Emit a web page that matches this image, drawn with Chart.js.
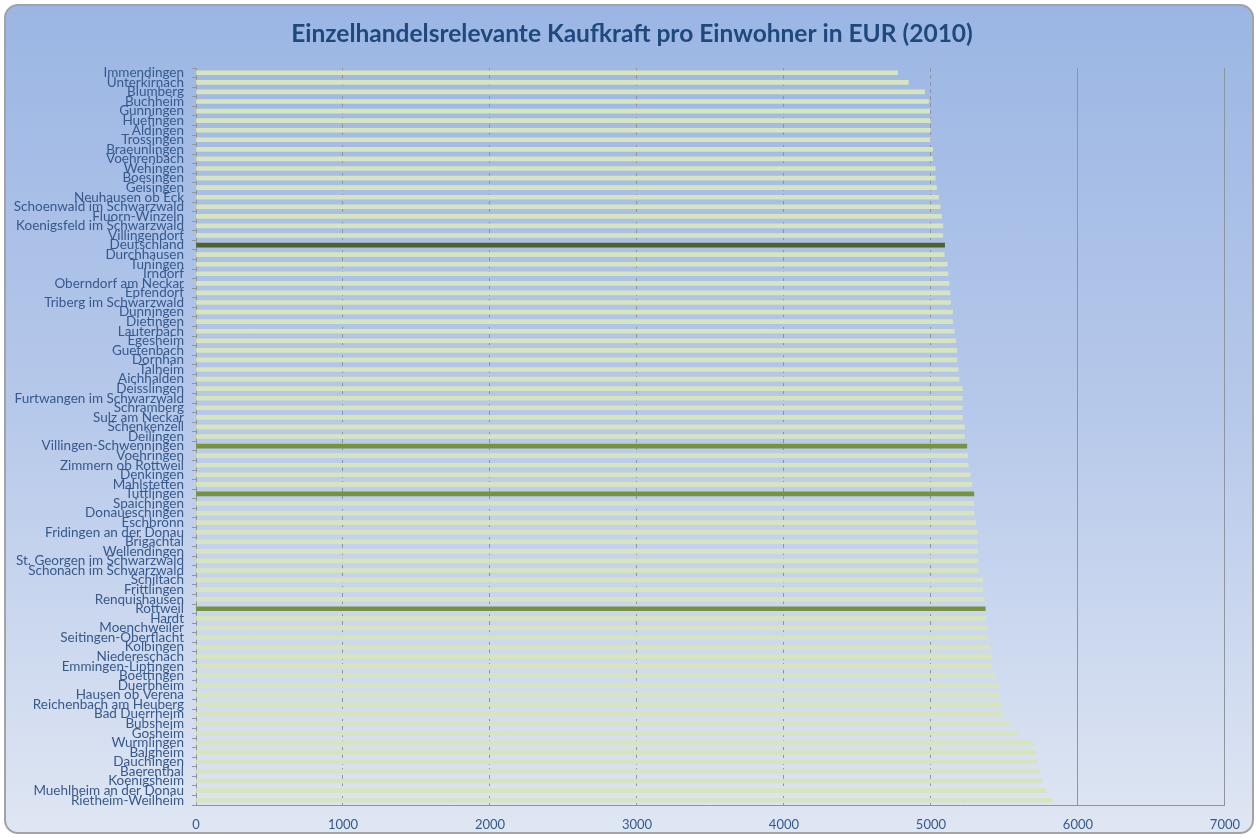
<!DOCTYPE html>
<html>
<head>
<meta charset="utf-8">
<script src="https://cdn.jsdelivr.net/npm/chart.js@4.4.0/dist/chart.umd.min.js"></script>
<style>
    body { margin: 0; background: #ffffff; }
    #card {
        position: absolute;
        left: 4px;
        top: 4px;
        width: 1250px;
        height: 830px;
        box-sizing: border-box;
        border: 2px solid #a3a3a3;
        border-radius: 14px;
        background: linear-gradient(to bottom, #9bb6e4 0%, #b7c9ea 50%, #dfe6f3 100%);
        overflow: hidden;
    }
    #chart { position: absolute; left: 0; top: 0; }
</style>
</head>
<body>
<div id="card">
    <canvas id="chart" width="1246" height="826"></canvas>
</div>
<script>
const titel = 'Einzelhandelsrelevante Kaufkraft pro Einwohner in EUR (2010)';

const gemeinden = [
    'Immendingen', 'Unterkirnach', 'Blumberg', 'Buchheim', 'Gunningen', 'Huefingen', 'Aldingen',
    'Trossingen', 'Braeunlingen', 'Voehrenbach', 'Wehingen', 'Boesingen', 'Geisingen',
    'Neuhausen ob Eck', 'Schoenwald im Schwarzwald', 'Fluorn-Winzeln', 'Koenigsfeld im Schwarzwald',
    'Villingendorf', 'Deutschland', 'Durchhausen', 'Tuningen', 'Irndorf', 'Oberndorf am Neckar',
    'Epfendorf', 'Triberg im Schwarzwald', 'Dunningen', 'Dietingen', 'Lauterbach', 'Egesheim',
    'Guetenbach', 'Dornhan', 'Talheim', 'Aichhalden', 'Deisslingen', 'Furtwangen im Schwarzwald',
    'Schramberg', 'Sulz am Neckar', 'Schenkenzell', 'Deilingen', 'Villingen-Schwenningen',
    'Voehringen', 'Zimmern ob Rottweil', 'Denkingen', 'Mahlstetten', 'Tuttlingen', 'Spaichingen',
    'Donaueschingen', 'Eschbronn', 'Fridingen an der Donau', 'Brigachtal', 'Wellendingen',
    'St. Georgen im Schwarzwald', 'Schonach im Schwarzwald', 'Schiltach', 'Frittlingen',
    'Renquishausen', 'Rottweil', 'Hardt', 'Moenchweiler', 'Seitingen-Oberflacht', 'Kolbingen',
    'Niedereschach', 'Emmingen-Liptingen', 'Boettingen', 'Duerbheim', 'Hausen ob Verena',
    'Reichenbach am Heuberg', 'Bad Duerrheim', 'Bubsheim', 'Gosheim', 'Wurmlingen', 'Balgheim',
    'Dauchingen', 'Baerenthal', 'Koenigsheim', 'Muehlheim an der Donau', 'Rietheim-Weilheim'
];

const kaufkraft = [
    4773, 4846, 4957, 4984, 4991, 4995, 4995,
    4995, 5011, 5011, 5029, 5029, 5038,
    5052, 5063, 5072, 5081,
    5081, 5093, 5091, 5111, 5115, 5124,
    5129, 5133, 5147, 5147, 5158, 5169,
    5176, 5176, 5185, 5192, 5213, 5213,
    5213, 5215, 5228, 5228, 5244,
    5249, 5253, 5267, 5278, 5292, 5292,
    5292, 5303, 5317, 5317, 5317,
    5321, 5321, 5351, 5351,
    5360, 5369, 5373, 5385, 5385, 5403,
    5408, 5414, 5437, 5461, 5461,
    5480, 5495, 5543, 5595, 5695, 5710,
    5726, 5740, 5756, 5783, 5826
];

const xTicks = [0, 1000, 2000, 3000, 4000, 5000, 6000, 7000];

// hervorgehobene Balken
const landName = 'Deutschland';
const kreisStaedte = ['Villingen-Schwenningen', 'Tuttlingen', 'Rottweil'];

const barColors = gemeinden.map(name => {
    if (name === landName) return '#4f6228';
    if (kreisStaedte.includes(name)) return '#77933c';
    return '#d7e4bd';
});

const labelColor = '#36598c';
const gridColor = '#8f959c';

// Titel mittig über dem ganzen Rahmen, nicht nur über der Zeichenfläche
const titelPlugin = {
    id: 'titelMitte',
    afterDraw(chart) {
        const c = chart.ctx;
        c.save();
        c.font = 'bold 24.5px Lato';
        c.fillStyle = '#1f497d';
        c.textAlign = 'center';
        c.textBaseline = 'middle';
        c.fillText(titel, chart.width / 2 + 3, 28);
        c.restore();
    }
};

const ctx = document.getElementById('chart').getContext('2d');

new Chart(ctx, {
    type: 'bar',
    data: {
        labels: gemeinden,
        datasets: [{
            label: 'Kaufkraft',
            data: kaufkraft,
            backgroundColor: barColors,
            borderWidth: 0,
            barThickness: 4,
        }]
    },
    options: {
        indexAxis: 'y',
        responsive: false,
        animation: false,
        layout: { padding: { left: 0, right: 25, top: 62, bottom: 0 } },
        plugins: {
            legend: { display: false },
            tooltip: { enabled: false },
            title: { display: false }
        },
        scales: {
            x: {
                min: 0,
                max: 7000,
                afterBuildTicks: scale => {
                    scale.ticks = xTicks.map(v => ({ value: v }));
                },
                afterFit: scale => { scale.height = 27; },
                grid: {
                    color: gridColor,
                    lineWidth: 1,
                    drawTicks: false,
                },
                border: {
                    color: gridColor,
                    width: 1,
                    dash: c => (c.tick && c.tick.value > 0 && c.tick.value <= 5000) ? [4, 3] : []
                },
                ticks: {
                    color: labelColor,
                    padding: 12,
                    font: { family: 'Lato', size: 13 },
                    callback: value => String(value)
                }
            },
            y: {
                afterFit: scale => { scale.width = 190; },
                grid: {
                    drawOnChartArea: false,
                    drawTicks: true,
                    tickLength: 4,
                    color: gridColor,
                },
                border: { color: gridColor, width: 1 },
                ticks: {
                    autoSkip: false,
                    color: labelColor,
                    padding: 8,
                    font: { family: 'Lato', size: 13.5, lineHeight: 1 }
                }
            }
        }
    },
    plugins: [titelPlugin]
});
</script>
</body>
</html>
